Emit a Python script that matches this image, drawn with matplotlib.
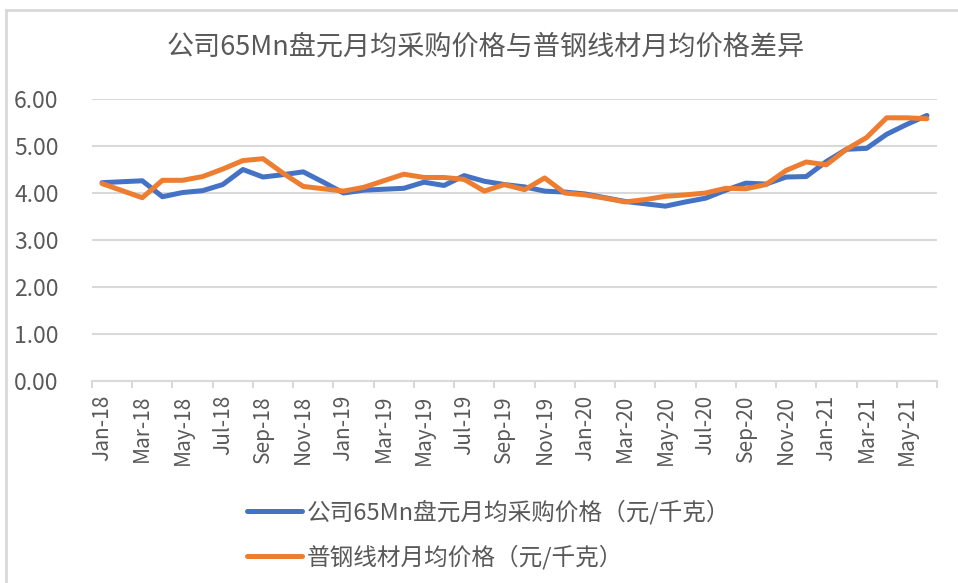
import pandas as pd
import matplotlib
matplotlib.use('Agg')
import matplotlib.pyplot as plt
from matplotlib.lines import Line2D

plt.rcParams['font.family'] = ['Noto Sans CJK SC', 'DejaVu Sans']

# 月份（2018-01 ~ 2021-06）
months = pd.date_range('2018-01-01', periods=42, freq='MS')
month_labels = [m.strftime('%b-%y') for m in months]

# 公司65Mn盘元月均采购价格（元/千克）
mn65_price = [4.22, 4.24, 4.26, 3.92, 4.01, 4.05, 4.18, 4.50, 4.34, 4.39, 4.45, 4.23,
              4.00, 4.06, 4.08, 4.10, 4.23, 4.16, 4.37, 4.25, 4.18, 4.13, 4.04, 4.02,
              3.98, 3.90, 3.82, 3.77, 3.72, 3.81, 3.89, 4.06, 4.21, 4.19, 4.34, 4.35,
              4.67, 4.93, 4.95, 5.25, 5.46, 5.65]
# 普钢线材月均价格（元/千克）
wire_price = [4.20, 4.05, 3.90, 4.27, 4.27, 4.35, 4.51, 4.69, 4.73, 4.42, 4.14, 4.09,
              4.04, 4.12, 4.26, 4.40, 4.33, 4.33, 4.29, 4.04, 4.18, 4.07, 4.32, 4.00,
              3.96, 3.89, 3.81, 3.86, 3.93, 3.96, 4.00, 4.10, 4.09, 4.18, 4.48, 4.66,
              4.60, 4.93, 5.18, 5.60, 5.60, 5.58]

label_mn = '公司65Mn盘元月均采购价格（元/千克）'
label_wire = '普钢线材月均价格（元/千克）'
title = '公司65Mn盘元月均采购价格与普钢线材月均价格差异'

grey_txt = '#595959'
grid_c = '#D9D9D9'

fig = plt.figure(figsize=(9.58, 5.83), dpi=100)
ax = fig.add_axes([92/958, 1-381/583, (937-92)/958, (381-99)/583])

x = list(range(len(months)))
ax.plot(x, mn65_price, color='#4472C4', linewidth=3.6, label=label_mn,
        solid_capstyle='round', solid_joinstyle='round', zorder=3)
ax.plot(x, wire_price, color='#ED7D31', linewidth=3.6, label=label_wire,
        solid_capstyle='round', solid_joinstyle='round', zorder=4)

ax.set_xlim(-0.5, len(months) - 0.5)
ax.set_ylim(0, 6)
ax.set_yticks([0, 1, 2, 3, 4, 5, 6])
ax.set_yticklabels([f'{v:.2f}' for v in range(7)])
ax.yaxis.grid(True, color=grid_c, linewidth=1.5)
ax.set_axisbelow(True)
for s in ['top', 'right', 'left']:
    ax.spines[s].set_visible(False)
ax.spines['bottom'].set_color(grid_c)
ax.spines['bottom'].set_linewidth(1.5)
ax.spines['bottom'].set_zorder(2)

# 每两个月一个标签，刻度线在分类边界
ax.set_xticks(x[::2])
ax.set_xticklabels(month_labels[::2], rotation=90, va='top', ha='center')
ax.set_xticks([i - 0.5 for i in range(0, len(months) + 1, 2)], minor=True)
ax.tick_params(axis='x', which='major', length=0, pad=10, labelsize=15, labelcolor=grey_txt)
ax.tick_params(axis='x', which='minor', length=5, width=1.5, color=grid_c)
ax.tick_params(axis='y', length=0, pad=24, labelsize=16.5, labelcolor=grey_txt)

fig.text(486/958, 1-47/583, title, ha='center', va='center', fontsize=19.5, color=grey_txt)

fig.legend(loc='upper left', bbox_to_anchor=(247/958, 1-500/583), frameon=False,
           fontsize=17, handlelength=2.35, handletextpad=0.2, labelspacing=0.85,
           borderpad=0, borderaxespad=0, labelcolor=grey_txt)

# 图表外框
fig.add_artist(Line2D([6/958, 1.0], [1-10/583, 1-10/583], transform=fig.transFigure, color=grid_c, linewidth=2))
fig.add_artist(Line2D([6/958, 6/958], [0.0, 1-10/583], transform=fig.transFigure, color=grid_c, linewidth=2))

fig.savefig('out.png', dpi=100)
